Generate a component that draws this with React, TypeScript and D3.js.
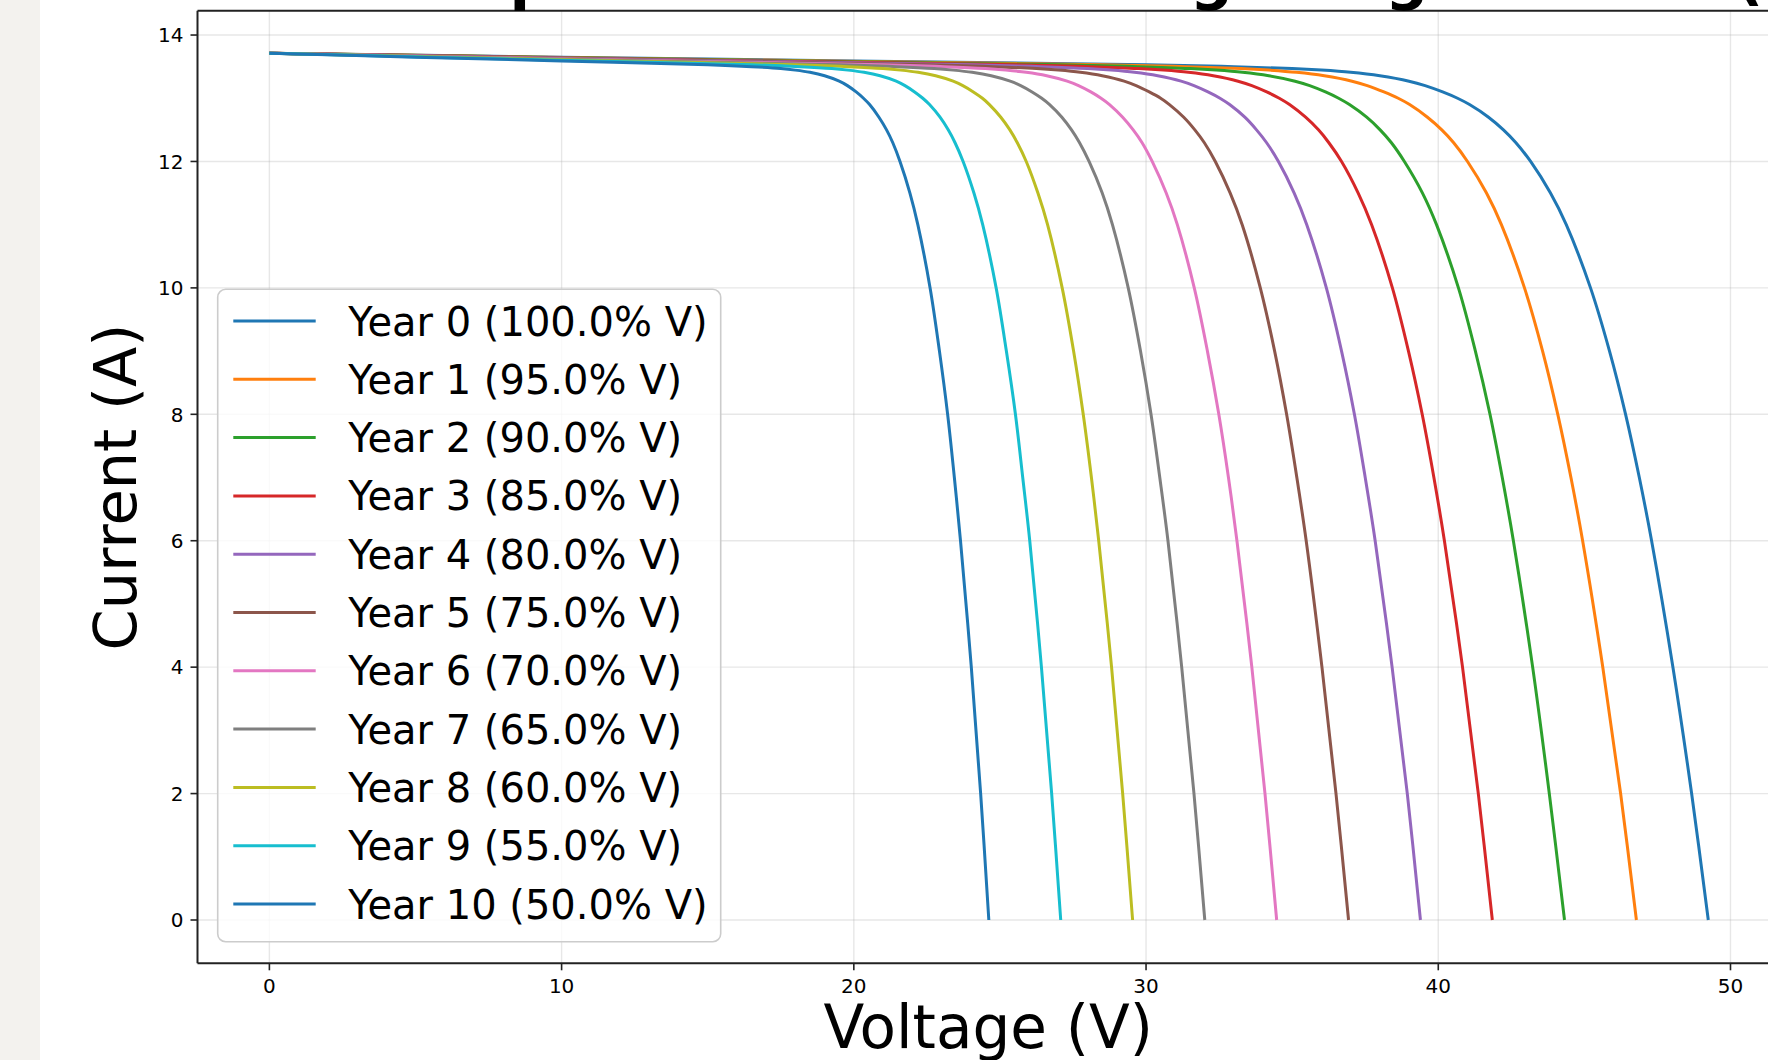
import * as d3 from "d3";

// Current levels (A) shared by every curve
const currentA = [
  13.71, 13.65, 13.59, 13.53, 13.5, 13.47, 13.445, 13.41, 13.355, 13.27, 13.2, 13.1, 13.0, 12.9,
  12.7, 12.5, 12.3, 12.0, 11.5, 11.0, 10.0, 9.0, 8.0, 7.0, 6.0, 4.0, 2.0, 0,
];

// Voltage (V) at which each year's curve reaches the current levels above
const voltageYear0 = [0, 10, 20, 30, 33, 35, 36, 37, 38, 39, 39.55, 40.15, 40.66, 41.07, 41.72, 42.23, 42.65, 43.16, 43.84, 44.38, 45.21, 45.86, 46.41, 46.88, 47.3, 48.03, 48.67, 49.24];
const voltageYear1 = [0, 9.5, 19, 28.5, 31.35, 33.25, 34.2, 35.15, 36.1, 37.05, 37.57, 38.14, 38.63, 39.02, 39.63, 40.12, 40.52, 41.0, 41.65, 42.16, 42.95, 43.57, 44.09, 44.54, 44.94, 45.63, 46.24, 46.78];
const voltageYear2 = [0, 9, 18, 27, 29.7, 31.5, 32.4, 33.3, 34.2, 35.1, 35.6, 36.14, 36.59, 36.96, 37.55, 38.01, 38.39, 38.84, 39.46, 39.94, 40.69, 41.27, 41.77, 42.19, 42.57, 43.23, 43.8, 44.32];
const voltageYear3 = [0, 8.5, 17, 25.5, 28.05, 29.75, 30.6, 31.45, 32.3, 33.15, 33.62, 34.13, 34.56, 34.91, 35.46, 35.9, 36.25, 36.69, 37.26, 37.72, 38.43, 38.98, 39.45, 39.85, 40.21, 40.83, 41.37, 41.85];
const voltageYear4 = [0, 8, 16, 24, 26.4, 28, 28.8, 29.6, 30.4, 31.2, 31.64, 32.12, 32.53, 32.86, 33.38, 33.78, 34.12, 34.53, 35.07, 35.5, 36.17, 36.69, 37.13, 37.5, 37.84, 38.42, 38.94, 39.39];
const voltageYear5 = [0, 7.5, 15, 22.5, 24.75, 26.25, 27, 27.75, 28.5, 29.25, 29.66, 30.11, 30.5, 30.8, 31.29, 31.67, 31.99, 32.37, 32.88, 33.29, 33.91, 34.4, 34.81, 35.16, 35.48, 36.02, 36.5, 36.93];
const voltageYear6 = [0, 7, 14, 21, 23.1, 24.5, 25.2, 25.9, 26.6, 27.3, 27.69, 28.11, 28.46, 28.75, 29.2, 29.56, 29.86, 30.21, 30.69, 31.07, 31.65, 32.1, 32.49, 32.82, 33.11, 33.62, 34.07, 34.47];
const voltageYear7 = [0, 6.5, 13, 19.5, 21.45, 22.75, 23.4, 24.05, 24.7, 25.35, 25.71, 26.1, 26.43, 26.7, 27.12, 27.45, 27.72, 28.05, 28.5, 28.85, 29.39, 29.81, 30.17, 30.47, 30.75, 31.22, 31.64, 32.01];
const voltageYear8 = [0, 6, 12, 18, 19.8, 21, 21.6, 22.2, 22.8, 23.4, 23.73, 24.09, 24.4, 24.64, 25.03, 25.34, 25.59, 25.9, 26.3, 26.63, 27.13, 27.52, 27.85, 28.13, 28.38, 28.82, 29.2, 29.54];
const voltageYear9 = [0, 5.5, 11, 16.5, 18.15, 19.25, 19.8, 20.35, 20.9, 21.45, 21.75, 22.08, 22.36, 22.59, 22.95, 23.23, 23.46, 23.74, 24.11, 24.41, 24.87, 25.22, 25.53, 25.78, 26.02, 26.42, 26.77, 27.08];
const voltageYear10 = [0, 5, 10, 15, 16.5, 17.5, 18, 18.5, 19, 19.5, 19.78, 20.08, 20.33, 20.54, 20.86, 21.12, 21.33, 21.58, 21.92, 22.19, 22.61, 22.93, 23.21, 23.44, 23.65, 24.02, 24.34, 24.62];

const voltagePct = [100, 95, 90, 85, 80, 75, 70, 65, 60, 55, 50];
const xTicks = [0, 10, 20, 30, 40, 50];
const yTicks = [0, 2, 4, 6, 8, 10, 12, 14];

const series = [
  voltageYear0, voltageYear1, voltageYear2, voltageYear3, voltageYear4, voltageYear5,
  voltageYear6, voltageYear7, voltageYear8, voltageYear9, voltageYear10,
];

// matplotlib tab10, cycling back to blue for the 11th line
const colors = [
  "#1f77b4", "#ff7f0e", "#2ca02c", "#d62728", "#9467bd", "#8c564b",
  "#e377c2", "#7f7f7f", "#bcbd22", "#17becf", "#1f77b4",
];

const W = 1768;
const H = 1060;
const FONT = "DejaVu Sans";

export default function App() {
  const x = d3.scaleLinear().domain([-2.46, 51.66]).range([197.5, 1779]);
  const y = d3.scaleLinear().domain([-0.685, 14.385]).range([963.3, 10.7]);

  const line = d3
    .line<[number, number]>()
    .x((d) => x(d[0]))
    .y((d) => y(d[1]))
    .curve(d3.curveCatmullRom.alpha(0.5));

  const left = x.range()[0];
  const right = x.range()[1];
  const top = y.range()[1];
  const bottom = y.range()[0];

  // legend layout
  const legX = 217.7;
  const legY = 289.3;
  const legW = 503;
  const legH = 652.4;
  const rowY0 = 321;
  const rowStep = 58.3;

  return (
    <svg
      width={W}
      height={H}
      style={{ position: "absolute", left: 0, top: 0, background: "#fff" }}
      fontFamily={FONT}
    >
      <rect x={0} y={0} width={W} height={H} fill="#ffffff" />
      <rect x={0} y={0} width={40} height={H} fill="#f3f2ee" />

      {/* grid */}
      <g stroke="#b0b0b0" strokeOpacity={0.3} strokeWidth={1.4}>
        {xTicks.map((t) => (
          <line key={"gx" + t} x1={x(t)} x2={x(t)} y1={top} y2={bottom} />
        ))}
        {yTicks.map((t) => (
          <line key={"gy" + t} x1={left} x2={right} y1={y(t)} y2={y(t)} />
        ))}
      </g>

      {/* curves */}
      <g fill="none" strokeWidth={3} strokeLinejoin="round" strokeLinecap="butt">
        {series.map((volts, i) => (
          <path
            key={"s" + i}
            d={line(volts.map((v, j) => [v, currentA[j]] as [number, number])) || ""}
            stroke={colors[i]}
          />
        ))}
      </g>

      {/* spines */}
      <g stroke="#222" strokeWidth={2} fill="none">
        <line x1={left} x2={left} y1={top} y2={bottom} />
        <line x1={left} x2={right} y1={bottom} y2={bottom} />
        <line x1={left} x2={right} y1={top} y2={top} />
      </g>

      {/* x axis ticks */}
      <g>
        {xTicks.map((t) => (
          <g key={"xt" + t}>
            <line x1={x(t)} x2={x(t)} y1={bottom} y2={bottom + 7} stroke="#222" strokeWidth={1.6} />
            <text x={x(t)} y={bottom + 30} textAnchor="middle" fontSize={20} fill="#000">
              {t}
            </text>
          </g>
        ))}
      </g>

      {/* y axis ticks */}
      <g>
        {yTicks.map((t) => (
          <g key={"yt" + t}>
            <line x1={left - 7} x2={left} y1={y(t)} y2={y(t)} stroke="#222" strokeWidth={1.6} />
            <text x={left - 14} y={y(t) + 7.3} textAnchor="end" fontSize={20} fill="#000">
              {t}
            </text>
          </g>
        ))}
      </g>

      {/* axis labels */}
      <text x={(left + right) / 2} y={1048} textAnchor="middle" fontSize={59.6} fill="#000">
        Voltage (V)
      </text>
      <text
        transform={`translate(136, ${(top + bottom) / 2}) rotate(-90)`}
        textAnchor="middle"
        fontSize={59}
        fill="#000"
      >
        Current (A)
      </text>

      {/* title, mostly above the visible area */}
      <text y={-2} fontSize={60} fontWeight="bold" fill="#000">
        <tspan x={952} textAnchor="end">
          Solar Panel I-V Curves with Temperature and
        </tspan>
        <tspan x={1016}>Voltage Degradation (10 Years)</tspan>
      </text>

      {/* legend */}
      <rect
        x={legX}
        y={legY}
        width={legW}
        height={legH}
        rx={8}
        fill="#ffffff"
        fillOpacity={0.8}
        stroke="#cccccc"
        strokeWidth={1.6}
      />
      {voltagePct.map((p, i) => {
        const cy = rowY0 + i * rowStep;
        return (
          <g key={"lg" + i}>
            <line x1={233.3} x2={315.7} y1={cy} y2={cy} stroke={colors[i]} strokeWidth={3} />
            <text x={348.3} y={cy + 14.5} fontSize={40} fill="#000">
              {`Year ${i} (${p.toFixed(1)}% V)`}
            </text>
          </g>
        );
      })}
    </svg>
  );
}
